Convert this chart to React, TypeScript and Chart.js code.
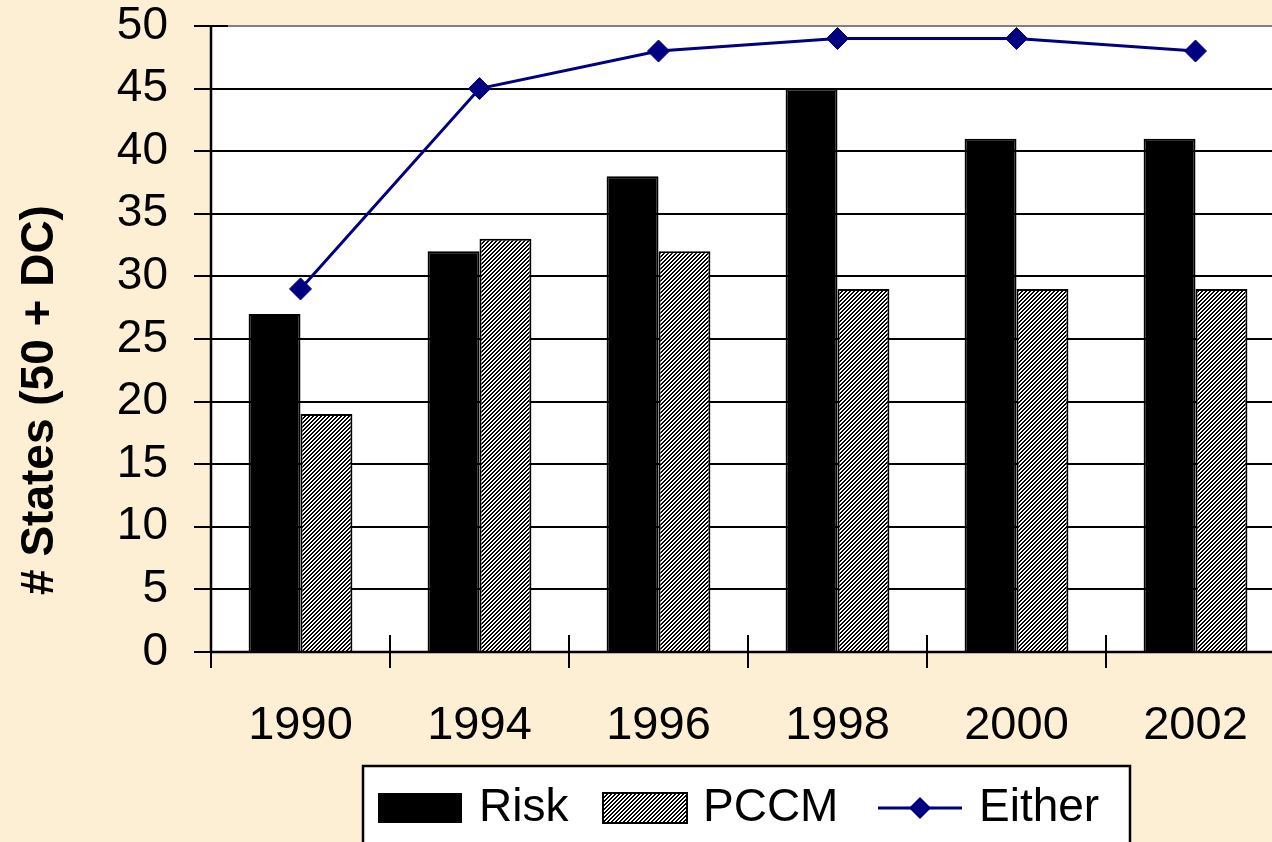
import React, { useEffect, useRef } from "react";
import { Chart, registerables } from "chart.js";

Chart.register(...registerables);

// ---- data ----
const categories = ["1990", "1994", "1996", "1998", "2000", "2002"];
const riskValues = [27, 32, 38, 45, 41, 41];
const pccmValues = [19, 33, 32, 29, 29, 29];
const eitherValues = [29, 45, 48, 49, 49, 48];
const seriesLabels = ["Risk", "PCCM", "Either"];
const yMin = 0;
const yMax = 50;
const yStep = 5;
const yTitle = "# States (50 + DC)";

// ---- style ----
const BG = "#FDEFD4";
const NAVY = "#000080";
const FONT = "'Liberation Sans', Arial, Helvetica, sans-serif";
const CW = 1300;
const CH = 870;

function makeHatch(): CanvasPattern | string {
  const c = document.createElement("canvas");
  c.width = 4;
  c.height = 4;
  const g = c.getContext("2d");
  if (!g) return "#888";
  g.fillStyle = "#ffffff";
  g.fillRect(0, 0, 4, 4);
  g.fillStyle = "#000000";
  for (let y = 0; y < 4; y++) {
    for (let x = 0; x < 4; x++) {
      if ((x + y) % 4 < 2) g.fillRect(x, y, 1, 1);
    }
  }
  return g.createPattern(c, "repeat") || "#888";
}

export default function App() {
  const ref = useRef<HTMLCanvasElement | null>(null);

  useEffect(() => {
    const canvas = ref.current;
    if (!canvas) return;
    const hatch = makeHatch();

    const framePlugin = {
      id: "frame",
      beforeDraw(chart: any) {
        const { ctx, chartArea: a } = chart;
        ctx.save();
        ctx.fillStyle = BG;
        ctx.fillRect(0, 0, chart.width, chart.height);
        ctx.fillStyle = "#ffffff";
        ctx.fillRect(a.left, a.top, a.right - a.left, a.bottom - a.top);
        ctx.restore();
      },
      afterDraw(chart: any) {
        const { ctx, chartArea: a } = chart;
        const ys = chart.scales.y;
        ctx.save();
        // gray plot-area border (top/right)
        ctx.strokeStyle = "#808080";
        ctx.lineWidth = 2;
        ctx.beginPath();
        ctx.moveTo(a.left, a.top);
        ctx.lineTo(a.right, a.top);
        ctx.lineTo(a.right, a.bottom);
        ctx.stroke();
        // axes
        ctx.strokeStyle = "#000";
        ctx.lineWidth = 2.5;
        ctx.beginPath();
        ctx.moveTo(a.left, a.top);
        ctx.lineTo(a.left, a.bottom);
        ctx.moveTo(a.left, a.bottom);
        ctx.lineTo(a.right, a.bottom);
        ctx.stroke();
        // y ticks (cross)
        ctx.lineWidth = 2;
        ctx.beginPath();
        for (let v = yMin; v <= yMax; v += yStep) {
          const py = Math.round(ys.getPixelForValue(v));
          ctx.moveTo(a.left - 17, py);
          ctx.lineTo(a.left + 17, py);
        }
        // x ticks (cross) at category boundaries
        const n = categories.length;
        const w = (a.right - a.left) / n;
        for (let i = 0; i <= n; i++) {
          const px = a.left + i * w;
          ctx.moveTo(px, a.bottom - 17);
          ctx.lineTo(px, a.bottom + 16);
        }
        ctx.stroke();

        // y title
        ctx.fillStyle = "#000";
        ctx.font = `bold 46px ${FONT}`;
        ctx.textAlign = "center";
        ctx.textBaseline = "middle";
        ctx.translate(40, 400);
        ctx.rotate(-Math.PI / 2);
        ctx.fillText(yTitle, 0, 0);
        ctx.setTransform(1, 0, 0, 1, 0, 0);

        // legend
        ctx.fillStyle = "#fff";
        ctx.fillRect(363, 766, 767, 120);
        ctx.strokeStyle = "#000";
        ctx.lineWidth = 2.5;
        ctx.strokeRect(363, 766, 767, 120);
        const cy = 808;
        ctx.font = `46px ${FONT}`;
        ctx.textAlign = "left";
        ctx.textBaseline = "middle";
        // Risk
        ctx.fillStyle = "#000";
        ctx.fillRect(378, 793, 84, 30);
        ctx.fillText(seriesLabels[0], 479, cy);
        // PCCM
        ctx.fillStyle = hatch as any;
        ctx.fillRect(603, 793, 84, 30);
        ctx.lineWidth = 2;
        ctx.strokeStyle = "#000";
        ctx.strokeRect(603, 793, 84, 30);
        ctx.fillStyle = "#000";
        ctx.fillText(seriesLabels[1], 703, cy);
        // Either
        ctx.strokeStyle = NAVY;
        ctx.lineWidth = 3;
        ctx.beginPath();
        ctx.moveTo(878, cy);
        ctx.lineTo(962, cy);
        ctx.stroke();
        ctx.fillStyle = NAVY;
        ctx.beginPath();
        ctx.moveTo(920, cy - 11);
        ctx.lineTo(931, cy);
        ctx.lineTo(920, cy + 11);
        ctx.lineTo(909, cy);
        ctx.closePath();
        ctx.fill();
        ctx.fillStyle = "#000";
        ctx.fillText(seriesLabels[2], 979, cy);
        ctx.restore();
      },
    };

    const chart = new Chart(canvas, {
      type: "bar",
      data: {
        labels: categories,
        datasets: [
          {
            type: "line",
            label: seriesLabels[2],
            data: eitherValues,
            borderColor: NAVY,
            borderWidth: 3,
            backgroundColor: NAVY,
            pointStyle: "rectRot",
            pointRadius: 11,
            pointBackgroundColor: NAVY,
            pointBorderColor: NAVY,
            pointBorderWidth: 1,
            tension: 0,
            order: 0,
          } as any,
          {
            type: "bar",
            label: seriesLabels[0],
            data: riskValues,
            backgroundColor: "#000",
            borderColor: "#000",
            borderWidth: 2,
            barPercentage: 1,
            categoryPercentage: 0.58,
            order: 1,
          },
          {
            type: "bar",
            label: seriesLabels[1],
            data: pccmValues,
            backgroundColor: hatch as any,
            borderColor: "#000",
            borderWidth: 2,
            barPercentage: 1,
            categoryPercentage: 0.58,
            order: 2,
          },
        ],
      },
      options: {
        responsive: false,
        animation: false,
        devicePixelRatio: 1,
        layout: { padding: { top: 26, right: CW - 1285, left: 0, bottom: 0 } },
        plugins: {
          legend: { display: false },
          tooltip: { enabled: false },
        },
        scales: {
          x: {
            offset: true,
            grid: { display: false, drawTicks: false },
            border: { display: false },
            ticks: {
              color: "#000",
              font: { family: FONT, size: 47 },
              padding: 46,
              maxRotation: 0,
              autoSkip: false,
            },
            afterFit(scale: any) {
              scale.height = CH - 652;
            },
          },
          y: {
            min: yMin,
            max: yMax,
            grid: {
              color: (c: any) => (c.tick && c.tick.value === yMax ? "#808080" : "#000"),
              lineWidth: 2,
              drawTicks: true,
              tickLength: 43,
              tickColor: "rgba(0,0,0,0)",
            },
            border: { display: false },
            ticks: {
              stepSize: yStep,
              autoSkip: false,
              color: "#000",
              font: { family: FONT, size: 46, lineHeight: 1.1 },
              padding: 0,
            },
            afterFit(scale: any) {
              scale.width = 211;
            },
          },
        },
      },
      plugins: [framePlugin],
    });

    return () => chart.destroy();
  }, []);

  return (
    <div
      style={{
        position: "absolute",
        left: 0,
        top: 0,
        width: 1272,
        height: 842,
        overflow: "hidden",
        background: BG,
      }}
    >
      <canvas ref={ref} width={CW} height={CH} style={{ display: "block" }} />
    </div>
  );
}
